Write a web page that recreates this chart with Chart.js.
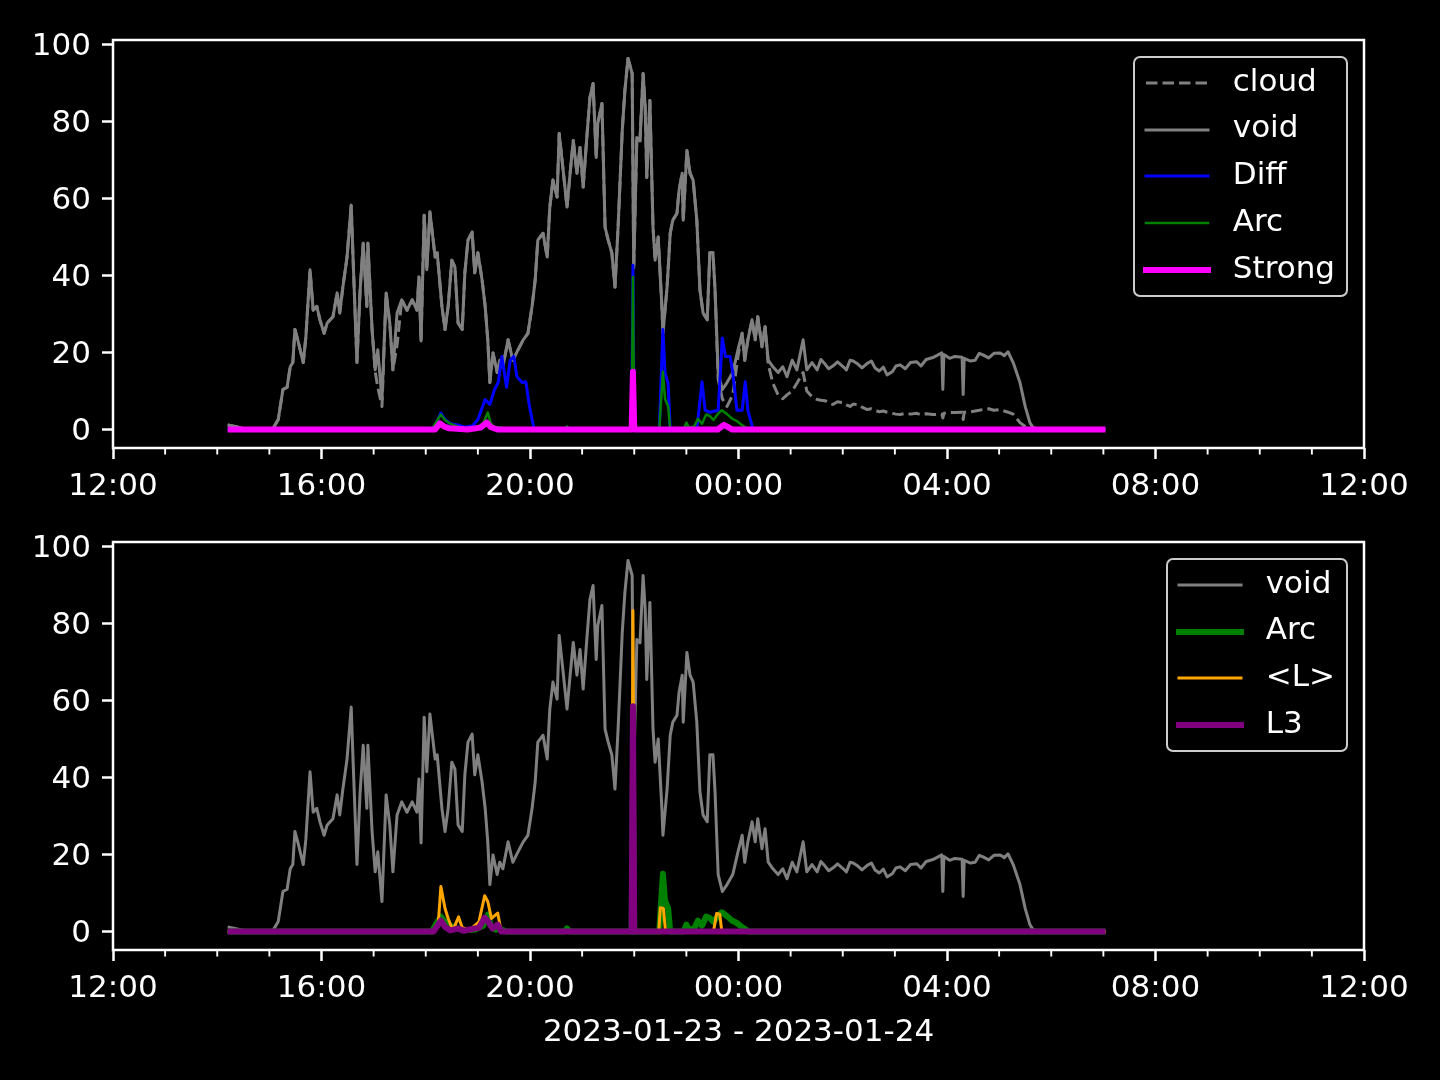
<!DOCTYPE html>
<html>
<head>
<meta charset="utf-8">
<title>void / cloud 2023-01-23</title>
<script src="https://cdn.jsdelivr.net/npm/chart.js@4.4.1/dist/chart.umd.min.js"></script>
<style>
  html, body { margin: 0; padding: 0; background: #000; }
  #figure { position: relative; width: 1440px; height: 1080px; background: #000; overflow: hidden; }
  #figure canvas { position: absolute; left: 0; }
  #topCanvas { top: 0; }
  #bottomCanvas { top: 500px; }
  .legend {
    position: absolute; right: 92px;
    border: 2px solid rgba(255, 255, 255, 0.8); border-radius: 7px;
    padding: 1.5px 11px; background: #000;
    font-family: 'DejaVu Sans', sans-serif; font-size: 31px; color: #fff;
  }
  .legend-row { display: flex; align-items: center; height: 46.8px; line-height: 46.8px; white-space: nowrap; }
  .legend-row svg { display: block; overflow: visible; margin-right: 25px; }
  .legend-row span { position: relative; top: -3px; }
  #topLegend { top: 56px; }
  #bottomLegend { top: 558px; }
</style>
</head>
<body>
<div id="figure">
  <canvas id="topCanvas" width="1440" height="500"></canvas>
  <canvas id="bottomCanvas" width="1440" height="580"></canvas>
  <div id="topLegend" class="legend"></div>
  <div id="bottomLegend" class="legend"></div>
</div>
<script>
// hours after 12:00 on 2023-01-23
const voidHours = [
  2.20, 2.34, 2.53, 2.82, 3.07, 3.17, 3.26, 3.34, 3.40, 3.45,
  3.49, 3.55, 3.65, 3.70, 3.78, 3.84, 3.91, 3.97, 4.05, 4.11,
  4.22, 4.30, 4.35, 4.41, 4.49, 4.57, 4.60, 4.68, 4.74, 4.80,
  4.87, 4.89, 4.97, 5.03, 5.08, 5.16, 5.24, 5.31, 5.37, 5.45,
  5.54, 5.64, 5.74, 5.83, 5.87, 5.91, 5.97, 6.02, 6.08, 6.18,
  6.22, 6.31, 6.37, 6.43, 6.50, 6.56, 6.62, 6.70, 6.75, 6.81,
  6.89, 6.94, 7.00, 7.08, 7.14, 7.19, 7.23, 7.29, 7.37, 7.42,
  7.48, 7.58, 7.67, 7.77, 7.87, 7.96, 8.04, 8.10, 8.15, 8.25,
  8.33, 8.38, 8.44, 8.52, 8.56, 8.63, 8.71, 8.77, 8.83, 8.90,
  8.96, 9.02, 9.09, 9.15, 9.21, 9.27, 9.30, 9.38, 9.44, 9.50,
  9.57, 9.63, 9.69, 9.77, 9.82, 9.88, 9.96, 9.99, 10.05, 10.11,
  10.17, 10.21, 10.24, 10.30, 10.36, 10.40, 10.46, 10.53, 10.55, 10.63,
  10.69, 10.74, 10.82, 10.86, 10.92, 10.94, 11.01, 11.07, 11.13, 11.20,
  11.26, 11.32, 11.40, 11.45, 11.51, 11.55, 11.61, 11.69, 11.78, 11.89,
  11.99, 12.07, 12.12, 12.18, 12.26, 12.32, 12.37, 12.45, 12.51, 12.57,
  12.66, 12.76, 12.85, 12.93, 13.03, 13.12, 13.24, 13.31, 13.41, 13.51,
  13.58, 13.66, 13.73, 13.81, 13.90, 14.01, 14.07, 14.14, 14.20, 14.29,
  14.37, 14.47, 14.55, 14.62, 14.70, 14.78, 14.85, 14.95, 15.02, 15.10,
  15.20, 15.30, 15.42, 15.50, 15.60, 15.73, 15.90, 15.92, 15.94, 16.05,
  16.15, 16.29, 16.31, 16.33, 16.45, 16.54, 16.62, 16.69, 16.80, 16.90,
  17.02, 17.10, 17.17, 17.27, 17.40, 17.50, 17.59, 17.65, 17.78, 19.04
];
const voidValues = [
  1.2, 0.8, 0.2, 0, 0.3, 2.6, 10.4, 11, 16.3, 17.4,
  26, 23, 17.4, 24, 41.5, 31, 32, 28.5, 25, 27.7,
  29.3, 35.5, 30.3, 37, 44.8, 58.3, 46.6, 17.4, 36, 48.4,
  32, 48.4, 26, 15.5, 20.7, 7.8, 35.5, 27.7, 15.5, 30.3,
  33.7, 31, 33.7, 31, 39.6, 23, 55.7, 41.5, 56.5, 44.8,
  45.9, 32, 26, 32, 44, 42.2, 27.7, 26, 40.7, 49.2,
  51.3, 40.7, 45.9, 38.9, 32, 23.3, 12.2, 19.9, 14.8, 18,
  16.3, 23.3, 18, 20.7, 23.3, 25, 32, 38.9, 49.2, 51,
  44.8, 57.8, 64.8, 60.4, 76.9, 68.1, 57.8, 66.6, 75.1, 66.6,
  73.3, 63, 75.9, 86.3, 89.9, 70.7, 79.5, 84.7, 52.6, 49.2,
  45.9, 37, 52.6, 77.7, 88, 96.4, 92.5, 42, 75.9, 75,
  92.5, 83.7, 65.5, 85.5, 52.6, 44, 50, 32, 25, 37,
  51, 54.4, 56.2, 62.2, 66.6, 54.4, 72.5, 66.6, 64.8, 54.4,
  36.3, 30.3, 28.5, 45.9, 45.9, 36.3, 14.8, 10.4, 12.2, 14.8,
  20.7, 25, 18, 23.3, 28.5, 23.3, 29.3, 21.5, 26.7, 18,
  16.3, 14.8, 16.3, 13.7, 18, 15.5, 23.3, 15.5, 17.4, 15.5,
  18.2, 17, 15.8, 16.5, 17.6, 16.3, 15.5, 18, 17.8, 17,
  16, 17.2, 17.8, 16, 15.2, 16.2, 14.2, 15, 16.5, 16.8,
  15.8, 17.4, 17.6, 16.5, 18.2, 18.7, 19.9, 10.4, 19.5, 18.5,
  19, 18.8, 9.1, 18.5, 17.8, 18, 19.8, 19.4, 18.6, 19.8,
  19.9, 19.2, 20.2, 17.4, 12.2, 6, 1.8, 0.5, 0, 0
];
const cloudValues = [
  1.2, 0.8, 0.2, 0, 0.3, 2.6, 10.4, 11, 16.3, 17.4,
  26, 23, 17.4, 24, 41.5, 31, 32, 28.5, 25, 27.7,
  29.3, 35.5, 30.3, 37, 44.8, 58.3, 46.6, 17.4, 36, 48.4,
  32, 48.4, 26, 15, 11, 6, 35.5, 27.7, 15.5, 22,
  33.7, 31, 33.7, 31, 39.6, 23, 55.7, 41.5, 56.5, 44.8,
  45.9, 32, 26, 32, 44, 42.2, 27.7, 26, 40.7, 49.2,
  51.3, 40.7, 45.9, 38.9, 32, 23.3, 12.2, 19.9, 14.8, 18,
  16.3, 23.3, 18, 20.7, 23.3, 25, 32, 38.9, 49.2, 51,
  44.8, 57.8, 64.8, 60.4, 76.9, 68.1, 57.8, 66.6, 75.1, 66.6,
  73.3, 63, 75.9, 86.3, 89.9, 70.7, 79.5, 84.7, 52.6, 49.2,
  45.9, 37, 52.6, 77.7, 88, 96.4, 92.5, 42, 75.9, 75,
  92.5, 83.7, 65.5, 85.5, 52.6, 44, 50, 32, 25, 37,
  51, 54.4, 56.2, 62.2, 66.6, 54.4, 72.5, 66.6, 64.8, 54.4,
  36.3, 30.3, 28.5, 45.9, 45.9, 36.3, 13, 8, 6, 9,
  19, 25, 18, 23.3, 28.5, 23.3, 29.3, 21.5, 26.7, 17,
  12, 9, 8, 9, 10, 12, 14.8, 10, 8.5, 7.8,
  7.6, 7.5, 7, 6.5, 7.2, 7, 6.4, 6, 6.6, 6.5,
  5.8, 5.2, 5.4, 5, 4.6, 4.8, 4.5, 4.2, 4, 3.9,
  4.2, 4, 4.2, 3.8, 4.1, 3.9, 4, 3, 4.2, 4.4,
  4.4, 4.5, 2.6, 4.5, 4.6, 4.8, 5, 5.2, 5.4, 5,
  5.2, 4.8, 4.5, 4, 1.8, 0.8, 0.2, 0, 0, 0
];

const diffHours = [2.20, 6.10, 6.18, 6.29, 6.37, 6.47, 6.62, 6.75, 6.90, 7.00, 7.14, 7.23, 7.32, 7.39, 7.46,
  7.55, 7.62, 7.69, 7.75, 7.85, 7.92, 7.99, 8.05, 8.08, 9.95, 9.975, 10.00, 10.48, 10.55, 10.59, 10.65, 10.69,
  11.20, 11.30, 11.36, 11.45, 11.61, 11.69, 11.75, 11.84, 11.89, 11.97, 12.07, 12.13, 12.18, 12.28, 19.04];
const diffValues = [0, 0, 1, 4.3, 2.6, 1.5, 1.2, 0.6, 1.0, 2.6, 7.8, 6.5, 10.4, 12.2, 19,
  11, 18, 19, 13.7, 12.2, 12.4, 6, 2, 0, 0, 42.7, 0, 0, 26, 14.8, 12, 0,
  0, 12.4, 5, 4.5, 5, 23.8, 19, 19, 14.8, 5, 5, 12.4, 5, 0, 0];

const arcHours = [2.20, 6.12, 6.20, 6.29, 6.37, 6.47, 6.60, 6.75, 6.95, 7.10, 7.19, 7.25, 7.33, 7.45, 7.55,
  8.66, 8.71, 8.76, 9.95, 9.975, 10.00, 10.48, 10.55, 10.59, 10.65, 10.69, 10.95, 11.00, 11.05, 11.15,
  11.22, 11.30, 11.38, 11.45, 11.52, 11.60, 11.68, 11.78, 11.88, 11.97, 12.08, 12.20, 19.04];
const arcValues = [0, 0, 2, 3.9, 2.5, 1.5, 0.8, 0.3, 0.5, 1.5, 4.4, 1.5, 0.5, 0.5, 0,
  0, 0.8, 0, 0, 39.6, 0, 0, 15, 8, 6, 0, 0, 1.8, 0.5, 0.8,
  2.8, 1.5, 3.9, 3.5, 2.5, 4, 5, 4, 2.8, 2.2, 1, 0, 0];

const strongHours = [2.20, 6.18, 6.27, 6.35, 6.45, 6.60, 6.80, 7.05, 7.17, 7.25, 7.38, 9.95, 9.975, 10.00,
  11.60, 11.72, 11.80, 11.88, 19.04];
const strongValues = [0, 0, 1.6, 0.8, 0.3, 0.2, 0, 0.5, 1.8, 0.6, 0, 0, 15, 0,
  0, 1.2, 0.6, 0, 0];

const meanLHours = [2.20, 6.12, 6.24, 6.29, 6.37, 6.43, 6.52, 6.63, 6.70, 6.85, 7.02, 7.13, 7.19, 7.26, 7.38,
  7.44, 7.52, 9.95, 9.975, 10.00, 10.47, 10.50, 10.56, 10.60, 11.52, 11.58, 11.64, 11.68, 19.04];
const meanLValues = [0, 0, 2, 11.7, 6, 3.4, 0.3, 3.8, 1, 0.5, 2.5, 9.3, 7.8, 3.4, 4.8,
  0.5, 0, 0, 83.4, 0, 0, 6.2, 6, 0, 0, 4.7, 4.5, 0, 0];

const l3Hours = [2.20, 6.15, 6.29, 6.37, 6.47, 6.63, 6.72, 7.02, 7.13, 7.20, 7.28, 7.38, 7.45, 9.95, 9.975, 10.00, 19.04];
const l3Values = [0, 0, 2.8, 1.2, 0.3, 0.8, 0.2, 1, 3.6, 2.5, 0.8, 1.8, 0, 0, 58.5, 0, 0];

const hourTicks = [0, 4, 8, 12, 16, 20, 24];
const hourLabels = ['12:00', '16:00', '20:00', '00:00', '04:00', '08:00', '12:00'];
const valueTicks = [0, 20, 40, 60, 80, 100];
const dateLabel = '2023-01-23 - 2023-01-24';

const font = { family: 'DejaVu Sans', size: 31 };

function toPoints(xs, ys) {
  return xs.map((x, i) => ({ x: x, y: ys[i] }));
}

function lineSet(label, xs, ys, color, width, order, dash) {
  return {
    label: label,
    data: toPoints(xs, ys),
    borderColor: color,
    borderWidth: width,
    borderDash: dash || [],
    borderJoinStyle: 'round',
    order: order,
    pointRadius: 0,
    fill: false,
    tension: 0
  };
}

// white box round the plot area plus the hourly minor ticks
const axesFrame = {
  id: 'axesFrame',
  afterDraw(chart) {
    const { ctx, chartArea: a, scales } = chart;
    ctx.save();
    ctx.strokeStyle = '#fff';
    ctx.lineWidth = 2.5;
    ctx.strokeRect(a.left, a.top, a.right - a.left, a.bottom - a.top);
    ctx.lineWidth = 1.9;
    for (let h = 1; h < 24; h++) {
      if (h % 4 === 0) continue;
      const px = scales.x.getPixelForValue(h);
      ctx.beginPath();
      ctx.moveTo(px, a.bottom);
      ctx.lineTo(px, a.bottom + 6.5);
      ctx.stroke();
    }
    ctx.restore();
  }
};

const htmlLegend = {
  id: 'htmlLegend',
  afterUpdate(chart, args, options) {
    const box = document.getElementById(options.containerID);
    box.innerHTML = '';
    chart.data.datasets.forEach(ds => {
      const row = document.createElement('div');
      row.className = 'legend-row';
      const svg = document.createElementNS('http://www.w3.org/2000/svg', 'svg');
      svg.setAttribute('width', '62');
      svg.setAttribute('height', '12');
      const line = document.createElementNS('http://www.w3.org/2000/svg', 'line');
      line.setAttribute('x1', '0');
      line.setAttribute('y1', '6');
      line.setAttribute('x2', '62');
      line.setAttribute('y2', '6');
      line.setAttribute('stroke', ds.borderColor);
      line.setAttribute('stroke-width', ds.borderWidth);
      if (ds.borderDash.length) {
        line.setAttribute('stroke-dasharray', ds.borderDash.join(' '));
      } else {
        line.setAttribute('stroke-linecap', 'square');
      }
      svg.appendChild(line);
      const text = document.createElement('span');
      text.textContent = ds.label;
      row.appendChild(svg);
      row.appendChild(text);
      box.appendChild(row);
    });
  }
};

function buildOptions(padTop, xHeight, legendId, withTitle) {
  return {
    responsive: false,
    animation: false,
    devicePixelRatio: 1,
    layout: { padding: { top: padTop, right: 76, left: 0, bottom: 0 } },
    plugins: {
      legend: { display: false },
      tooltip: { enabled: false },
      htmlLegend: { containerID: legendId }
    },
    scales: {
      x: {
        type: 'linear',
        min: 0,
        max: 24,
        afterBuildTicks: s => { s.ticks = hourTicks.map(v => ({ value: v })); },
        afterFit: s => { s.height = xHeight; },
        ticks: {
          color: '#fff',
          font: font,
          padding: 9,
          maxRotation: 0,
          minRotation: 0,
          autoSkip: false,
          callback: (v, i) => hourLabels[i]
        },
        grid: { display: true, drawOnChartArea: false, drawTicks: true, tickLength: 11, tickWidth: 2.5, tickColor: '#fff' },
        border: { display: false },
        title: {
          display: withTitle,
          text: dateLabel,
          color: '#fff',
          font: font,
          padding: { top: 0, bottom: 28 }
        }
      },
      y: {
        type: 'linear',
        min: -4.8,
        max: 101.2,
        afterBuildTicks: s => { s.ticks = valueTicks.map(v => ({ value: v })); },
        afterFit: s => { s.width = 113; },
        ticks: { color: '#fff', font: font, padding: 11, labelOffset: 2 },
        grid: { display: true, drawOnChartArea: false, drawTicks: true, tickLength: 11, tickWidth: 2.5, tickColor: '#fff' },
        border: { display: false }
      }
    }
  };
}

new Chart(document.getElementById('topCanvas'), {
  type: 'line',
  data: {
    datasets: [
      lineSet('cloud', voidHours, cloudValues, '#808080', 3, 5, [11.5, 5]),
      lineSet('void', voidHours, voidValues, '#808080', 3, 4),
      lineSet('Diff', diffHours, diffValues, '#0000ff', 3, 3),
      lineSet('Arc', arcHours, arcValues, '#008000', 2.5, 2),
      lineSet('Strong', strongHours, strongValues, '#ff00ff', 6, 1)
    ]
  },
  options: buildOptions(40, 52, 'topLegend', false),
  plugins: [axesFrame, htmlLegend]
});

new Chart(document.getElementById('bottomCanvas'), {
  type: 'line',
  data: {
    datasets: [
      lineSet('void', voidHours, voidValues, '#808080', 3, 4),
      lineSet('Arc', arcHours, arcValues, '#008000', 6, 3),
      lineSet('<L>', meanLHours, meanLValues, '#ffa500', 3, 2),
      lineSet('L3', l3Hours, l3Values, '#800080', 6, 1)
    ]
  },
  options: buildOptions(42, 130, 'bottomLegend', true),
  plugins: [axesFrame, htmlLegend]
});
</script>
</body>
</html>
